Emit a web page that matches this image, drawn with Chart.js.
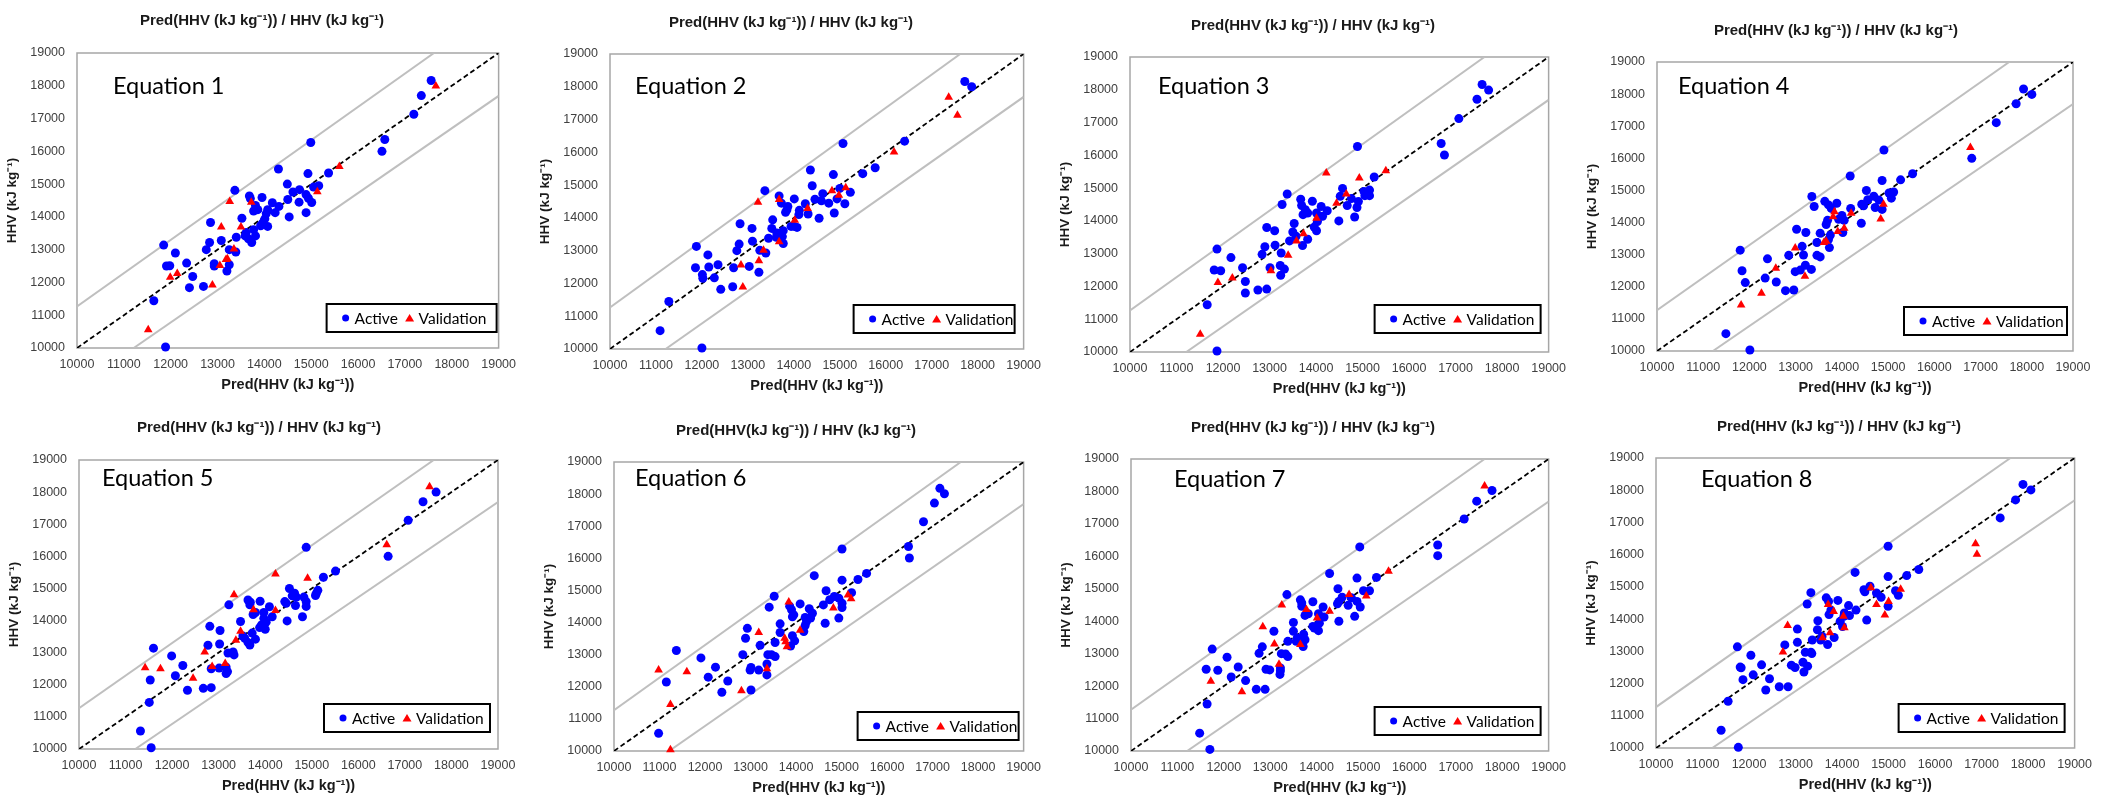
<!DOCTYPE html>
<html>
<head>
<meta charset="utf-8">
<script src="https://cdn.jsdelivr.net/npm/chart.js@4.4.1/dist/chart.umd.min.js"></script>
<style>
  html, body { margin: 0; padding: 0; background: #fff; }
  #wrap { position: relative; width: 2101px; height: 798px; overflow: hidden; }
  #wrap canvas { position: absolute; }
</style>
</head>
<body>
<div id="wrap"></div>
<script>
// axis ticks shared by all eight panels
const axisTicks = [10000, 11000, 12000, 13000, 14000, 15000, 16000, 17000, 18000, 19000];

// reference lines: 1:1 line and the two gray bands
const diagonal = [[10000, 10000], [19000, 19000]];
const upperBand = [[10000, 11270], [17620, 19000]];
const lowerBand = [[11210, 10000], [19000, 17690]];

const seriesNames = ['Active', 'Validation'];
const equationNames = ['Equation 1', 'Equation 2', 'Equation 3', 'Equation 4',
                       'Equation 5', 'Equation 6', 'Equation 7', 'Equation 8'];
const panelTitles = [
  'Pred(HHV (kJ kg⁻¹)) / HHV (kJ kg⁻¹)', 'Pred(HHV (kJ kg⁻¹)) / HHV (kJ kg⁻¹)',
  'Pred(HHV (kJ kg⁻¹)) / HHV (kJ kg⁻¹)', 'Pred(HHV (kJ kg⁻¹)) / HHV (kJ kg⁻¹)',
  'Pred(HHV (kJ kg⁻¹)) / HHV (kJ kg⁻¹)', 'Pred(HHV(kJ kg⁻¹)) / HHV (kJ kg⁻¹)',
  'Pred(HHV (kJ kg⁻¹)) / HHV (kJ kg⁻¹)', 'Pred(HHV (kJ kg⁻¹)) / HHV (kJ kg⁻¹)'
];
const xTitle = 'Pred(HHV (kJ kg⁻¹))';
const yTitle = 'HHV (kJ kg⁻¹)';

// [Pred(HHV), HHV] pairs
const eq1Active = [[17560,18160],[17350,17700],[17190,17130],[16510,16000],[16570,16360],[14990,16270],[14300,15460],[14930,15320],[15370,15340],[14490,15000],[15050,14910],[15160,14950],[14610,14760],[14750,14830],[14740,14450],[14890,14680],[14940,14570],[15010,14440],[14500,14530],[14890,14130],[14530,14000],[13370,14810],[13680,14640],[13700,14560],[13950,14590],[14170,14430],[14310,14320],[13810,14350],[13860,14220],[13770,14180],[14070,14220],[14230,14130],[14040,14100],[14010,13940],[13960,13810],[13920,13730],[14070,13710],[13520,13960],[12850,13830],[13770,13610],[13610,13520],[13590,13420],[13660,13330],[13730,13220],[13810,13420],[13400,13380],[13080,13280],[12830,13220],[12760,13000],[13250,13000],[13390,12930],[11850,13140],[12100,12900],[12340,12590],[11910,12500],[11980,12510],[12930,12500],[12930,12570],[13250,12540],[13200,12350],[12470,12180],[12400,11840],[12700,11880],[11640,11440],[11890,10030]];
const eq1Validation = [[17660,17990],[15600,15540],[15130,14770],[13720,14450],[13260,14470],[13080,13690],[13500,13690],[13350,13020],[13180,12700],[13210,12720],[13050,12520],[12140,12270],[11990,12160],[12890,11920],[11520,10560]];

const eq2Active = [[17720,18160],[17870,18000],[16410,16340],[15070,16270],[15770,15530],[15500,15350],[14360,15460],[14860,15320],[14400,14980],[13370,14830],[13680,14670],[14010,14580],[13730,14450],[13870,14350],[14630,14740],[14460,14570],[14600,14520],[14760,14450],[14940,14580],[15000,14900],[15230,14780],[15110,14430],[14880,14150],[14550,13990],[14250,14430],[14120,14230],[14310,14120],[13850,14250],[13820,14170],[14110,14100],[14010,13740],[14070,13710],[13940,13740],[13540,13940],[13520,13680],[13090,13680],[12830,13820],[13770,13610],[13630,13540],[13620,13410],[13750,13430],[13450,13380],[13100,13290],[12810,13200],[12760,13000],[13260,13010],[13390,12930],[13770,13220],[11880,13130],[12130,12870],[12350,12570],[11860,12480],[12150,12500],[12690,12480],[13030,12520],[13240,12340],[12020,12160],[12270,12170],[12010,12270],[12410,11820],[12670,11900],[11280,11450],[11090,10560],[12000,10030]];
const eq2Validation = [[17370,17680],[17560,17130],[16180,16010],[15130,14920],[14830,14830],[14980,14690],[13220,14480],[13680,14560],[14300,14290],[14020,13930],[13680,13270],[13340,13010],[13240,12690],[12850,12560],[12890,11890]];

const eq3Active = [[17570,18160],[17710,17990],[17460,17710],[17070,17120],[16690,16360],[16760,16010],[14890,16270],[15250,15340],[14570,14990],[14520,14750],[14760,14680],[15030,14900],[15150,14940],[15050,14770],[15150,14770],[14910,14590],[14880,14410],[14670,14470],[14830,14120],[14490,14000],[13380,14820],[13270,14500],[13670,14660],[13690,14470],[13920,14600],[14110,14440],[14240,14310],[13770,14340],[13820,14240],[13720,14190],[14010,14240],[14140,14140],[14030,13980],[13960,13810],[14010,13700],[13530,13920],[12940,13800],[13110,13700],[13500,13660],[13570,13530],[13430,13390],[13820,13440],[13710,13250],[13120,13260],[12900,13210],[12840,12980],[13250,13020],[11870,13140],[12170,12880],[12420,12570],[11810,12500],[11950,12480],[13010,12570],[13230,12640],[13320,12530],[13240,12340],[12480,12150],[12480,11800],[12750,11890],[12940,11920],[11660,11440],[11870,10030]];
const eq3Validation = [[14220,15460],[14930,15310],[15500,15530],[14650,14820],[14440,14540],[14010,14080],[13730,13610],[13580,13390],[13400,12950],[13030,12480],[12200,12260],[11890,12120],[11510,10540]];

const eq4Active = [[17930,18160],[18110,17990],[17770,17700],[17340,17110],[16810,16000],[14910,16260],[14180,15450],[15530,15520],[15270,15330],[14870,15310],[14530,15000],[13350,14810],[13400,14500],[13630,14660],[13710,14550],[13890,14600],[13770,14440],[14190,14440],[14560,14710],[14690,14820],[14800,14700],[14720,14470],[14430,14570],[14470,14520],[14870,14410],[15020,14920],[15120,14950],[15070,14760],[14000,14220],[14050,14070],[13930,14100],[13690,14070],[13660,13940],[14420,13980],[14020,13690],[13020,13790],[13220,13690],[13530,13670],[13750,13610],[13710,13470],[13460,13380],[13730,13220],[13140,13260],[12850,12980],[13170,12990],[13460,12980],[13530,12930],[12390,12870],[11800,13140],[11840,12500],[12990,12470],[13100,12520],[13210,12670],[13340,12540],[12340,12270],[11910,12130],[12580,12150],[12780,11880],[12960,11900],[11490,10540],[12010,10030]];
const eq4Validation = [[16780,16340],[14900,14570],[14840,14110],[14200,14290],[13840,14340],[13810,14180],[14050,13820],[13910,13720],[13610,13380],[13660,13420],[12990,13210],[12570,12580],[13200,12330],[12260,11800],[11820,11430]];

const eq5Active = [[17390,17700],[17670,18000],[17070,17120],[16640,16000],[14880,16280],[15510,15540],[15250,15350],[14520,15000],[14630,14850],[14580,14770],[14670,14730],[14830,14730],[15130,14940],[15080,14780],[15100,14850],[14880,14590],[14880,14440],[14650,14470],[14420,14590],[14450,14540],[14800,14120],[14470,13990],[13630,14640],[13680,14570],[13670,14490],[13220,14490],[13890,14600],[14090,14430],[13740,14190],[13790,14250],[13970,14250],[14150,14120],[13970,14070],[14020,13950],[14000,13730],[13880,13780],[13920,13860],[13470,13970],[12810,13820],[13030,13690],[13720,13610],[13520,13520],[13560,13450],[13630,13320],[13670,13240],[13790,13420],[13020,13270],[12770,13230],[13200,12990],[13310,13020],[13330,12930],[11600,13140],[11990,12900],[12230,12600],[13010,12520],[12840,12500],[13160,12550],[13190,12410],[13160,12350],[12070,12280],[11530,12150],[12330,11830],[12670,11890],[12840,11910],[11510,11450],[11320,10560],[11550,10040]];
const eq5Validation = [[17530,18170],[16610,16360],[14910,15320],[14220,15450],[14220,14310],[13750,14340],[13330,14800],[13470,13670],[13370,13390],[12700,13020],[12860,12570],[13140,12660],[12450,12200],[11750,12500],[11420,12530]];

const eq6Active = [[17160,18180],[17260,18010],[17040,17720],[16800,17140],[16470,16370],[16490,16010],[15010,16290],[14400,15460],[15550,15530],[15360,15340],[15010,15320],[15220,14930],[14660,14990],[14600,14550],[14740,14710],[14840,14810],[14940,14760],[15010,14470],[15010,14600],[14940,14140],[14640,13980],[13520,14820],[13410,14480],[13860,14510],[13900,14400],[13950,14240],[13920,14180],[14090,14580],[14290,14430],[14360,14290],[14200,14160],[14230,14030],[14200,13910],[14320,14140],[14170,13720],[13970,13430],[13920,13590],[13880,13270],[13650,13960],[13650,13690],[13540,13380],[12930,13820],[12890,13510],[13210,13290],[12830,13000],[13380,13000],[13460,13000],[13540,12940],[13360,12710],[13360,12370],[13180,12520],[12990,12520],[13010,12600],[11370,13130],[11910,12900],[12230,12610],[12070,12300],[12500,12180],[11150,12150],[12370,11830],[13010,11900],[10980,10550]];
const eq6Validation = [[15140,14860],[15210,14740],[14820,14450],[13840,14640],[14090,13760],[13180,13690],[13750,13510],[13770,13400],[13800,13250],[13360,12560],[12800,11880],[11600,12470],[10980,12520],[11240,11450],[11240,10040]];

const eq7Active = [[17780,18030],[17450,17700],[17180,17150],[16610,16350],[16610,16020],[14930,16290],[14280,15470],[15290,15350],[14870,15330],[14460,15000],[14550,14740],[14750,14720],[14870,14610],[14940,14440],[14680,14490],[14480,14610],[14450,14540],[15010,14940],[15140,14940],[14820,14150],[14480,14000],[13360,14820],[13650,14660],[13680,14560],[13680,14460],[13920,14600],[14140,14440],[13750,14180],[13820,14230],[14040,14230],[14160,14130],[14060,13940],[13950,13790],[13920,13840],[14040,13710],[13500,13960],[13500,13690],[13080,13690],[13720,13600],[13580,13480],[13560,13380],[13750,13430],[13710,13220],[13380,13380],[12830,13210],[12760,13010],[13240,13000],[13330,12990],[13380,12910],[11750,13140],[12070,12890],[12310,12590],[11620,12520],[11870,12490],[12910,12520],[12990,12500],[13220,12560],[13220,12470],[13210,12360],[12160,12280],[12470,12170],[12700,11900],[12890,11900],[11640,11450],[11480,10550],[11700,10050]];
const eq7Validation = [[17620,18170],[15550,15540],[15070,14780],[14700,14820],[14280,14310],[13780,14360],[14010,14100],[13250,14500],[12840,13830],[13090,13300],[13650,13280],[13190,12670],[11720,12150],[12390,11830]];

const eq8Active = [[17890,18180],[18060,18010],[17730,17700],[17400,17140],[14990,16260],[14280,15450],[14990,15320],[15390,15350],[15650,15540],[14490,14850],[14470,14910],[14600,15020],[14740,14810],[14840,14680],[15150,14880],[15210,14740],[14990,14400],[14530,13970],[13330,14820],[13250,14470],[13660,14660],[13710,14550],[13910,14580],[14140,14420],[13760,14280],[13720,14140],[14300,14280],[14160,14110],[14050,14190],[14040,14090],[13960,13930],[14010,13770],[13480,13950],[13040,13690],[13470,13670],[13570,13460],[13540,13350],[13690,13210],[13830,13430],[13360,13350],[13040,13280],[12770,13200],[13210,12970],[13330,12970],[13350,12930],[11750,13140],[12040,12880],[12270,12580],[11810,12510],[11830,12490],[12910,12570],[12990,12500],[13160,12660],[13260,12540],[13180,12360],[12090,12270],[11870,12120],[12440,12150],[12650,11900],[12840,11900],[12360,11800],[11550,11450],[11400,10550],[11770,10020]];
const eq8Validation = [[16870,16340],[16900,16010],[14620,14970],[15260,14930],[15000,14550],[14740,14450],[14920,14130],[14030,14090],[14050,13730],[13820,14240],[13700,14450],[13740,13580],[13580,13420],[12830,13800],[12730,12980]];

const activeSets = [eq1Active, eq2Active, eq3Active, eq4Active, eq5Active, eq6Active, eq7Active, eq8Active];
const validationSets = [eq1Validation, eq2Validation, eq3Validation, eq4Validation, eq5Validation, eq6Validation, eq7Validation, eq8Validation];

// where each panel sits (cell-relative pixels)
const cells = [
  { x: 0,    y: 0,   w: 525, plot: [77, 53, 509, 348], title: [262, 21], label: [36, 33], legend: [2, 16, 170] },
  { x: 525,  y: 0,   w: 525, plot: [85, 54, 504, 349], title: [266, 23], label: [25, 32], legend: [9, 16, 161] },
  { x: 1050, y: 0,   w: 525, plot: [80, 57, 504, 352], title: [263, 26], label: [28, 29], legend: [8, 19, 166] },
  { x: 1575, y: 0,   w: 526, plot: [82, 62, 498, 351], title: [261, 31], label: [21, 24], legend: [6, 16, 163] },
  { x: 0,    y: 399, w: 525, plot: [79, 61, 498, 350], title: [259, 29], label: [23, 18], legend: [8, 17, 166] },
  { x: 525,  y: 399, w: 525, plot: [89, 63, 510, 352], title: [271, 32], label: [21, 16], legend: [5, 11, 161] },
  { x: 1050, y: 399, w: 525, plot: [81, 60, 504, 352], title: [263, 29], label: [43, 20], legend: [8, 16, 166] },
  { x: 1575, y: 399, w: 526, plot: [81, 59, 503, 349], title: [264, 28], label: [45, 21], legend: [10, 16, 166] }
];
const CELL_H = 399, Y_AXIS_W = 77, X_AXIS_H = 46;

const toXY = pairs => pairs.map(p => ({ x: p[0], y: p[1] }));

const panelDecor = {
  id: 'panelDecor',
  beforeDatasetsDraw(chart, args, o) {
    const a = chart.chartArea, ctx = chart.ctx;
    ctx.save();
    ctx.strokeStyle = '#a6a6a6';
    ctx.lineWidth = 1.5;
    ctx.strokeRect(a.left, a.top, a.right - a.left, a.bottom - a.top);
    ctx.restore();
  },
  afterDatasetsDraw(chart, args, o) {
    const a = chart.chartArea, ctx = chart.ctx;
    ctx.save();
    // panel title
    ctx.fillStyle = '#1a1a1a';
    ctx.font = 'bold 15px "Liberation Sans", Arial, sans-serif';
    ctx.textAlign = 'center';
    ctx.textBaseline = 'middle';
    ctx.fillText(o.title, o.titlePos[0], o.titlePos[1]);
    // equation label
    ctx.fillStyle = '#000';
    ctx.font = '23.5px Lato, sans-serif';
    ctx.textAlign = 'left';
    ctx.fillText(o.label, a.left + o.labelPos[0], a.top + o.labelPos[1]);
    // legend box
    const [gr, gb, w] = o.legend;
    const h = 28, bx = a.right - gr - w, by = a.bottom - gb - h;
    ctx.fillStyle = '#fff';
    ctx.fillRect(bx, by, w, h);
    ctx.strokeStyle = '#000';
    ctx.lineWidth = 2;
    ctx.strokeRect(bx, by, w, h);
    const cy = by + h / 2;
    ctx.fillStyle = '#0000ff';
    ctx.beginPath();
    ctx.arc(bx + 19, cy, 3.5, 0, Math.PI * 2);
    ctx.fill();
    ctx.fillStyle = '#ff0000';
    ctx.beginPath();
    ctx.moveTo(bx + 83, cy - 4);
    ctx.lineTo(bx + 87.5, cy + 3.5);
    ctx.lineTo(bx + 78.5, cy + 3.5);
    ctx.closePath();
    ctx.fill();
    ctx.fillStyle = '#000';
    ctx.font = '15.5px Lato, sans-serif';
    ctx.fillText(seriesNames[0], bx + 28, cy + 1);
    ctx.fillText(seriesNames[1], bx + 92, cy + 1);
    ctx.restore();
  }
};

const wrap = document.getElementById('wrap');

cells.forEach((c, i) => {
  const canvas = document.createElement('canvas');
  canvas.width = c.w;
  canvas.height = CELL_H;
  canvas.style.left = c.x + 'px';
  canvas.style.top = c.y + 'px';
  wrap.appendChild(canvas);

  const [pl, pt, pr, pb] = c.plot;
  const tickFont = { family: '"Liberation Sans", Arial, sans-serif', size: 12.5 };

  new Chart(canvas.getContext('2d'), {
    type: 'scatter',
    data: {
      datasets: [
        { label: seriesNames[1], data: toXY(validationSets[i]), pointStyle: 'triangle',
          pointRadius: 5, backgroundColor: '#ff0000', borderWidth: 0, clip: false },
        { label: seriesNames[0], data: toXY(activeSets[i]), pointStyle: 'circle',
          pointRadius: 4.5, backgroundColor: '#0000ff', borderWidth: 0, clip: false },
        { data: toXY(diagonal), showLine: true, pointRadius: 0, borderColor: '#000',
          borderWidth: 1.8, borderDash: [5, 3] },
        { data: toXY(upperBand), showLine: true, pointRadius: 0, borderColor: '#bfbfbf', borderWidth: 2 },
        { data: toXY(lowerBand), showLine: true, pointRadius: 0, borderColor: '#bfbfbf', borderWidth: 2 }
      ]
    },
    options: {
      responsive: false,
      animation: false,
      layout: { padding: { left: pl - Y_AXIS_W, right: c.w - pr, top: pt, bottom: CELL_H - pb - X_AXIS_H } },
      scales: {
        x: {
          type: 'linear', min: 10000, max: 19000,
          afterBuildTicks: s => { s.ticks = axisTicks.map(v => ({ value: v })); },
          afterFit: s => { s.height = X_AXIS_H; },
          ticks: { callback: v => String(v), color: '#404040', font: tickFont, padding: 9,
                   autoSkip: false, maxRotation: 0 },
          grid: { display: false, drawTicks: false },
          border: { display: false },
          title: { display: true, text: xTitle, color: '#1a1a1a', padding: { top: 0, bottom: 0 },
                   font: { family: '"Liberation Sans", Arial, sans-serif', size: 14.5, weight: 'bold' } }
        },
        y: {
          type: 'linear', min: 10000, max: 19000,
          afterBuildTicks: s => { s.ticks = axisTicks.map(v => ({ value: v })); },
          afterFit: s => { s.width = Y_AXIS_W; },
          ticks: { callback: v => String(v), color: '#404040', font: tickFont, padding: 12, autoSkip: false },
          grid: { display: false, drawTicks: false },
          border: { display: false },
          title: { display: true, text: yTitle, color: '#1a1a1a', padding: { top: 4, bottom: 0 },
                   font: { family: '"Liberation Sans", Arial, sans-serif', size: 13.5, weight: 'bold' } }
        }
      },
      plugins: {
        legend: { display: false },
        tooltip: { enabled: false },
        panelDecor: { title: panelTitles[i], titlePos: c.title, label: equationNames[i],
                      labelPos: c.label, legend: c.legend }
      }
    },
    plugins: [panelDecor]
  });
});
</script>
</body>
</html>
